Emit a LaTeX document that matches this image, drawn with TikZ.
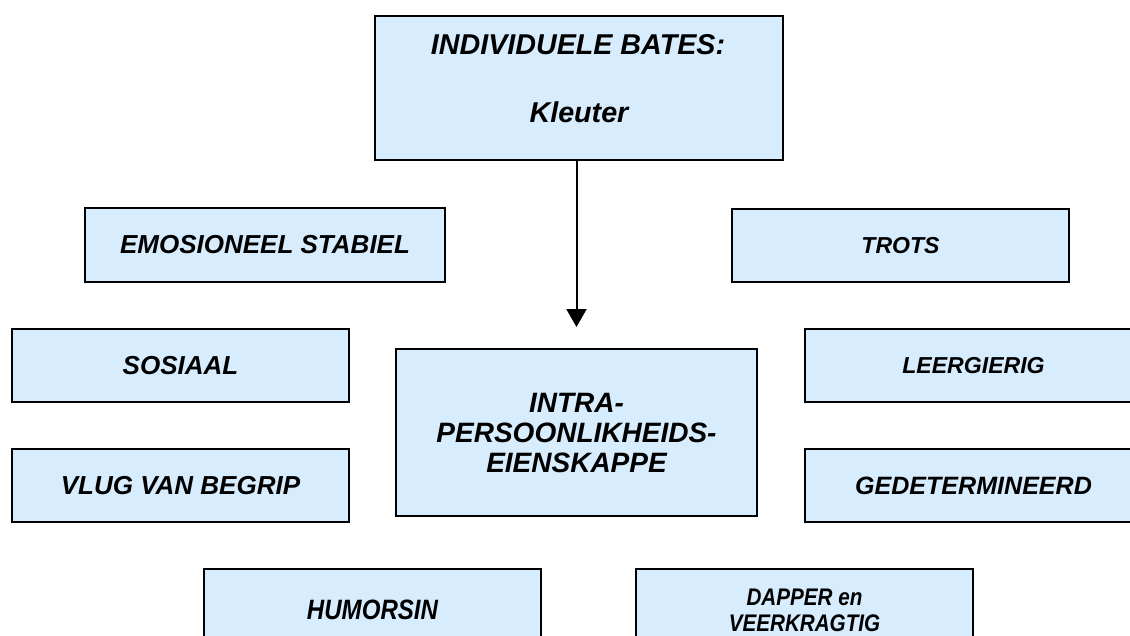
\documentclass[tikz,border=0pt]{standalone}
\usepackage{fontspec}
\setmainfont{Liberation Sans}
\newfontfamily\narrowfont[FakeStretch=0.86]{Liberation Sans}
\usetikzlibrary{arrows.meta,positioning}
\definecolor{batesblue}{RGB}{215,236,252}
\tikzset{
  tbox/.style={draw=black, line width=1.5pt, fill=batesblue, inner sep=0pt,
               minimum width=#1, minimum height=54.75pt, align=center},
  bigtxt/.style={font=\fontsize{19.5}{23}\selectfont\bfseries\itshape},
  smalltxt/.style={font=\fontsize{17.3}{21}\selectfont\bfseries\itshape},
  narrowtxt/.style={font=\narrowfont\fontsize{#1}{19.5}\selectfont\bfseries\itshape},
  headtxt/.style={font=\fontsize{21.5}{25}\selectfont\bfseries\itshape},
  flowline/.style={line width=1.5pt, -{Triangle[width=15pt, length=13.5pt]}},
}

\begin{document}
\begin{tikzpicture}[x=0.75pt, y=-0.75pt]
\useasboundingbox (0,0) rectangle (1130,635);
\clip (0,0) rectangle (1130,635);

% --- Top: individuele bates ---
\node[tbox=306pt, minimum height=108pt] (bates) at (579,88) {};
\node[headtxt] (batestitle) at (578,45) {INDIVIDUELE BATES:};
\node[headtxt] (batessub) at (579,112) {Kleuter};

% --- Centre ---
\node[tbox=270.75pt, minimum height=125.25pt, headtxt,
      font=\fontsize{21}{22.5}\selectfont\bfseries\itshape] (mid) at (576.5,432.5)
      {INTRA-\\PERSOONLIKHEIDS-\\EIENSKAPPE};

\coordinate (tip) at ([yshift=15.75pt]mid.north);
\draw[flowline] (bates.south -| tip) -- (tip);

% --- Left traits ---
\node[tbox=270pt, minimum height=55.5pt, bigtxt] (emosioneel) at (265,245) {EMOSIONEEL STABIEL};
\node[tbox=252.75pt, bigtxt] (sosiaal) at (180.5,365.5) {SOSIAAL};
\node[tbox=252.75pt, bigtxt] (vlug) at (180.5,485.5) {VLUG VAN BEGRIP};

% --- Right traits ---
\node[tbox=252.75pt, smalltxt] (trots) at (900.5,245.5) {TROTS};
\node[tbox=252.75pt, smalltxt] (leergierig) at (973.5,365.5) {LEERGIERIG};
\node[tbox=252.75pt, bigtxt, font=\fontsize{18.8}{22}\selectfont\bfseries\itshape]
      (gedetermineerd) at (973.5,485.5) {GEDETERMINEERD};

% --- Bottom traits ---
\node[tbox=252.75pt, minimum height=61.5pt, narrowtxt=21] (humorsin) at (372.5,610) {HUMORSIN};
\node[tbox=252.75pt, minimum height=61.5pt, narrowtxt=18] (dapper) at (804.5,610) {DAPPER en\\VEERKRAGTIG};

\end{tikzpicture}
\end{document}
